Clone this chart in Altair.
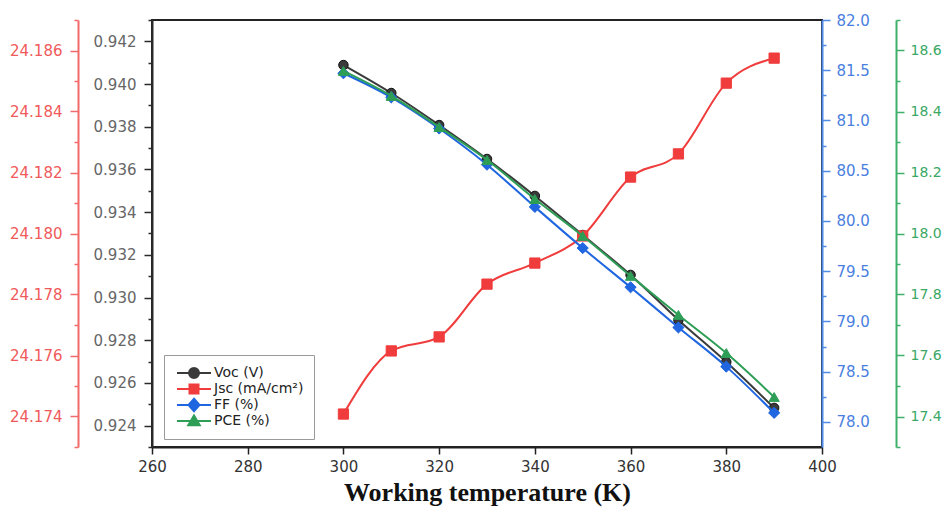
import altair as alt
import pandas as pd

# ---------------- data ----------------
temperature = [300, 310, 320, 330, 340, 350, 360, 370, 380, 390]
voc = [0.94089, 0.93958, 0.93808, 0.93649, 0.93476, 0.93293, 0.93106, 0.92895, 0.92698, 0.92483]
jsc = [24.17408, 24.17615, 24.17661, 24.17834, 24.17903, 24.17992, 24.18185, 24.18261, 24.18493, 24.18575]
ff = [81.47, 81.23, 80.92, 80.56, 80.14, 79.73, 79.34, 78.94, 78.55, 78.09]
pce = [18.533, 18.451, 18.349, 18.241, 18.113, 17.992, 17.861, 17.733, 17.608, 17.464]

series_names = ["Voc (V)", "Jsc (mA/cm²)", "FF (%)", "PCE (%)"]
series_colors = ["#3a3a3a", "#f03c3c", "#1f66e0", "#2e9e57"]

x_ticks = [260, 280, 300, 320, 340, 360, 380, 400]
voc_ticks = [0.923, 0.924, 0.925, 0.926, 0.927, 0.928, 0.929, 0.930, 0.931, 0.932, 0.933,
             0.934, 0.935, 0.936, 0.937, 0.938, 0.939, 0.940, 0.941, 0.942, 0.943]
jsc_ticks = [24.173, 24.174, 24.175, 24.176, 24.177, 24.178, 24.179, 24.180,
             24.181, 24.182, 24.183, 24.184, 24.185, 24.186, 24.187]
ff_ticks = [78.0, 78.25, 78.5, 78.75, 79.0, 79.25, 79.5, 79.75, 80.0, 80.25, 80.5,
            80.75, 81.0, 81.25, 81.5, 81.75, 82.0]
pce_ticks = [17.3, 17.4, 17.5, 17.6, 17.7, 17.8, 17.9, 18.0, 18.1, 18.2, 18.3,
             18.4, 18.5, 18.6, 18.7]

df = pd.DataFrame({"T": temperature, "Voc": voc, "Jsc": jsc, "FF": ff, "PCE": pce})

LABEL_FONT = "DejaVu Sans"

x_enc = alt.X(
    "T:Q",
    scale=alt.Scale(domain=[260, 400], nice=False, zero=False),
    axis=alt.Axis(
        values=x_ticks, format="d", title="Working temperature (K)",
        titleFont="Liberation Serif", titleFontSize=26, titleFontWeight="bold",
        titleColor="#111", titlePadding=5,
        labelFont=LABEL_FONT, labelFontSize=15, labelColor="#333", labelPadding=5,
        labelFlush=False, labelOverlap=False,
        domainColor="#222", domainWidth=2, tickColor="#222", tickWidth=1.5, tickSize=7,
        grid=False,
    ),
)


def y_axis(orient, offset, color, label_color, values, fmt, minor_test, pad, fsize=15):
    return alt.Axis(
        orient=orient, offset=offset, values=values, title=None,
        labelExpr=f"({minor_test}) ? '' : format(datum.value, '{fmt}')",
        tickSize={"condition": {"test": minor_test, "value": 4}, "value": 8},
        domainColor=color, domainWidth=2, tickColor=color, tickWidth=1.5,
        labelColor=label_color, labelFont=LABEL_FONT, labelFontSize=fsize,
        labelPadding=pad, labelFlush=False, labelOverlap=False, grid=False,
    )


def series_layer(field, color, shape, size, domain, axis, stroke=None):
    y = alt.Y(f"{field}:Q", scale=alt.Scale(domain=domain, nice=False, zero=False), axis=axis)
    base = alt.Chart(df).encode(x=x_enc, y=y)
    line = base.mark_line(color=color, strokeWidth=2, interpolate="monotone")
    pts = base.mark_point(shape=shape, filled=True, size=size, fill=color,
                          stroke=stroke or color, strokeWidth=1, opacity=1)
    return alt.layer(line, pts)


voc_layer = series_layer(
    "Voc", series_colors[0], "circle", 90, [0.923, 0.943],
    y_axis("left", 0, "#2a2a2a", "#666666", voc_ticks, ".3f",
           "abs(datum.value*1000 - round(datum.value*500)*2) > 0.5", 8),
    stroke="#111111",
)
jsc_layer = series_layer(
    "Jsc", series_colors[1], "square", 105, [24.173, 24.187],
    y_axis("left", 74, "#f26b6b", "#f05a5a", jsc_ticks, ".3f",
           "abs(datum.value*1000 - round(datum.value*500)*2) > 0.5", 8),
)
ff_layer = series_layer(
    "FF", series_colors[2], "diamond", 125, [77.75, 82.0],
    y_axis("right", 0, "#4f8ae6", "#4a7fe0", ff_ticks, ".1f",
           "abs(datum.value*2 - round(datum.value*2)) > 0.1", 6),
)
pce_layer = series_layer(
    "PCE", series_colors[3], "triangle-up", 105, [17.3, 18.7],
    y_axis("right", 74, "#3fb06a", "#3aa864", pce_ticks, ".1f",
           "abs(datum.value*10 - round(datum.value*5)*2) > 0.5", 6, fsize=14),
)

legend_paths = [
    "M-3.4,0H3.4M-1,0A1,1,0,1,0,1,0A1,1,0,1,0,-1,0Z",
    "M-3.4,0H3.4M-0.9,-0.9H0.9V0.9H-0.9Z",
    "M-3.4,0H3.4M0,-1.25L1.1,0L0,1.25L-1.1,0Z",
    "M-3.4,0H3.4M0,-1.1L1.15,0.85L-1.15,0.85Z",
]

legend = alt.Legend(
    orient="none", legendX=12, legendY=335, title=None,
    padding=10, strokeColor="#9a9a9a", fillColor="white",
    symbolOffset=13, labelOffset=13, symbolSize=100, symbolStrokeWidth=2,
    symbolOpacity=1, clipHeight=16, rowPadding=0,
    labelFont=LABEL_FONT, labelFontSize=14, labelColor="#222",
)

legend_df = pd.DataFrame({"series": series_names})
legend_layer = alt.Chart(legend_df).transform_filter("false").mark_point(filled=True, opacity=1).encode(
    shape=alt.Shape("series:N", title=None,
                    scale=alt.Scale(domain=series_names, range=legend_paths), legend=legend),
    fill=alt.Fill("series:N", title=None,
                  scale=alt.Scale(domain=series_names, range=series_colors), legend=legend),
    stroke=alt.Stroke("series:N", title=None,
                      scale=alt.Scale(domain=series_names, range=series_colors), legend=legend),
)

chart = (
    alt.layer(voc_layer, jsc_layer, ff_layer, pce_layer, legend_layer)
    .resolve_scale(y="independent")
    .properties(
        width=670, height=427, autosize="none",
        padding={"left": 144, "top": 12, "right": 122, "bottom": 61},
        background="white",
    )
    .configure_view(stroke="#222222", strokeWidth=2)
)

chart.save("out.html", embed_options={"renderer": "svg", "actions": False})
